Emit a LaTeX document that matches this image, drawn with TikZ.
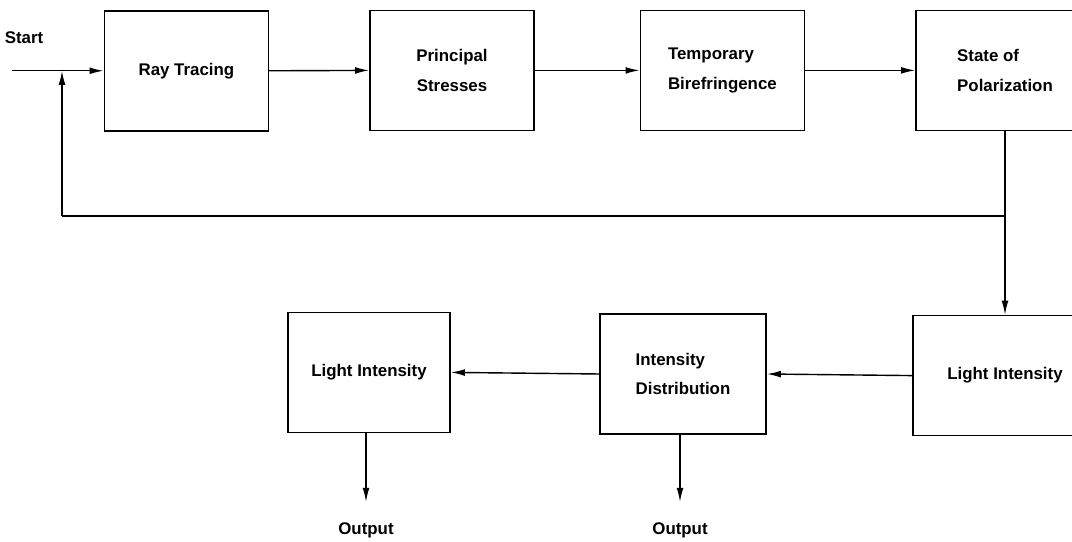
\documentclass[tikz,border=0pt]{standalone}
\usepackage{fontspec}
\setmainfont{Liberation Sans}
\usepackage{tikz}
\usetikzlibrary{arrows.meta}
\tikzset{
	block/.style={draw, line width=1.2pt, minimum width=4.1cm, minimum height=3cm, align=left, font=\fontsize{12}{21}\selectfont\bfseries},
	label/.style={font=\fontsize{12}{14}\selectfont\bfseries},
	flow/.style={line width=1pt, -{Latex[length=3.5mm,width=1.7mm]}},
	wire/.style={line width=1pt}
}

\begin{document}
\begin{tikzpicture}
		%%%%% START %%%%%
		\useasboundingbox (0, 0) rectangle (26.8, 13.55);
		
		\node[label] (start) at (0.6, 12.6) {Start};
		\coordinate (in) at (0.3, 11.78);
		\coordinate (join) at (1.55, 11.78);
		
		\node[block] (rt) at (4.66, 11.78) {Ray Tracing};
		\node[block, align=center] (ps) at (11.3, 11.79) {Principal\\Stresses};
		\node[block] (tb) at (18.06, 11.79) {Temporary\\Birefringence};
		\node[block, minimum width=4.45cm] (sp) at (25.125, 11.79) {State of\\Polarization};
		
		\node[block, minimum width=4.6cm] (lr) at (25.125, 4.16) {Light Intensity};
		\node[block, minimum width=4.15cm] (id) at (17.075, 4.2) {Intensity\\Distribution};
		\node[block, minimum width=4.05cm] (ll) at (9.225, 4.24) {Light Intensity};
		
		\node[label] (out1) at (9.15, 0.3) {Output};
		\node[label] (out2) at (17.0, 0.3) {Output};
		
		% top row
		\draw[flow] (in) -- (rt.west);
		\draw[flow] (rt.east) -- (ps.west);
		\draw[flow] (ps.east) -- (tb.west);
		\draw[flow] (tb.east) -- (sp.west);
		
		% feedback loop
		\coordinate (fb) at (25.125, 8.15);
		\coordinate (back) at (1.55, 8.15);
		\draw[wire] (sp.south) -- (fb) -- (back);
		\draw[flow] (back) -- (join);
		\draw[flow] (fb) -- (lr.north);
		
		% bottom row
		\draw[flow] (lr.west) -- (id.east);
		\draw[flow] (id.west) -- (ll.east);
		\draw[flow, shorten >=11pt] (ll.south -| out1) -- (out1.north);
		\draw[flow, shorten >=11pt] (id.south -| out2) -- (out2.north);
		%%%%% END %%%%%
	\end{tikzpicture}
\end{document}
